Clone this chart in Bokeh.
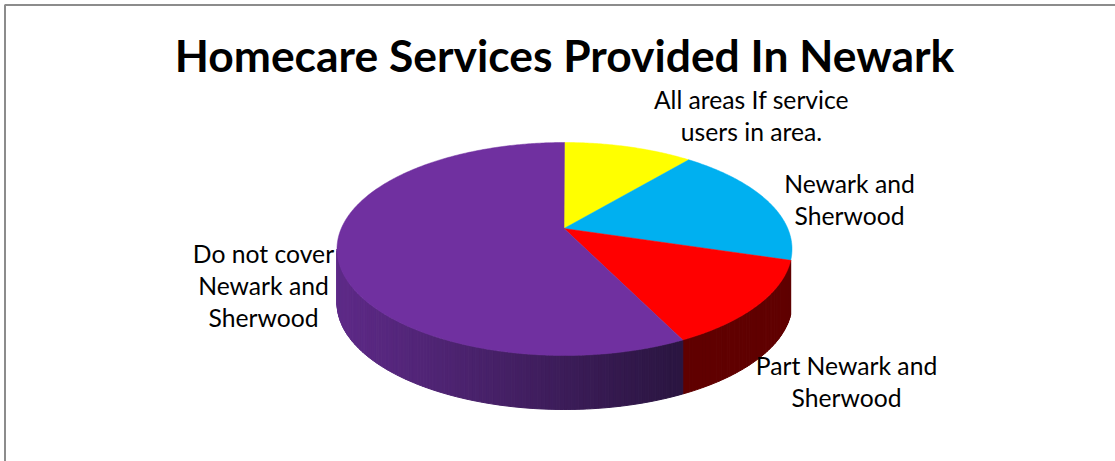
import math
from bokeh.plotting import figure
from bokeh.models import Range1d
from bokeh.core.properties import value
from bokeh.embed import file_html
from bokeh.resources import INLINE

W, H = 1115, 461
title_text = "Homecare Services Provided In Newark"
categories = ["All areas If service\nusers in area.", "Newark and\nSherwood",
              "Part Newark and\nSherwood", "Do not cover\nNewark and\nSherwood"]
shares = [9.2, 17.5, 14.6, 58.7]
top_colors = ["#FFFF00", "#00B0F0", "#FF0000", "#7030A0"]
side_left = [None, None, "#600000", "#5E2A88"]
side_right = [None, None, "#600000", "#2A1540"]
label_x = [751, 849, 846, 263]
label_y = [115, 199, 381, 285]

CX, CY, RX, RY, DEPTH = 564, 248.5, 227.5, 106.5, 54
APEX = (563.5, 228)

p = figure(width=W, height=H, x_range=Range1d(0, W), y_range=Range1d(H, 0),
           output_backend="svg", toolbar_location=None, min_border=0,
           background_fill_color="white", border_fill_color="white", outline_line_color=None)
p.xaxis.visible = False
p.yaxis.visible = False
p.grid.visible = False

# chart frame (left and top edges only are visible in the window)
p.line([4.5, 4.5, W + 5], [H + 5, 4.5, 4.5], line_color="#8C8C8C", line_width=2)


def hex_mix(a, b, t):
    ca = [int(a[i:i + 2], 16) for i in (1, 3, 5)]
    cb = [int(b[i:i + 2], 16) for i in (1, 3, 5)]
    return "#%02x%02x%02x" % tuple(round(u + (v - u) * t) for u, v in zip(ca, cb))


def rim(theta):
    return CX + RX * math.sin(theta), CY - RY * math.cos(theta)


total = sum(shares)
edges = [0.0]
for s in shares:
    edges.append(edges[-1] + s / total * 2 * math.pi)

# side wall
wx, wy, wc = [], [], []
for i in range(len(shares)):
    if side_left[i] is None:
        continue
    a = max(edges[i], math.pi / 2)
    b = min(edges[i + 1], 3 * math.pi / 2)
    if b <= a:
        continue
    xa, xb = rim(a)[0], rim(b)[0]
    n = max(2, int((b - a) * 60))
    for k in range(n):
        t0 = a + (b - a) * k / n
        t1 = a + (b - a) * (k + 1) / n
        x0, y0 = rim(t0)
        x1, y1 = rim(t1)
        wx.append([x0, x1, x1, x0])
        wy.append([y0, y1, y1 + DEPTH, y0 + DEPTH])
        frac = (xa - (x0 + x1) / 2) / (xa - xb)
        wc.append(hex_mix(side_right[i], side_left[i], frac))
p.patches(wx, wy, fill_color=wc, line_color=wc, line_width=1)

# top surface
sx, sy = [], []
for i in range(len(shares)):
    n = max(2, int((edges[i + 1] - edges[i]) * 120))
    pts = [rim(edges[i] + (edges[i + 1] - edges[i]) * k / n) for k in range(n + 1)]
    sx.append([APEX[0]] + [q[0] for q in pts])
    sy.append([APEX[1]] + [q[1] for q in pts])
p.patches(sx, sy, fill_color=top_colors, line_color=top_colors, line_width=0.5)

# labels
p.text(x=label_x, y=label_y, text=categories, text_align="center", text_baseline="middle",
       text_font=value("Lato"), text_font_size="24.7px", text_color="#000000", text_line_height=1.1)
p.text(x=[564], y=[54], text=[title_text], text_align="center", text_baseline="middle",
       text_font=value("Lato"), text_font_size="44.4px", text_font_style="bold", text_color="#000000")

open("out.html", "w").write(file_html(p, INLINE))
